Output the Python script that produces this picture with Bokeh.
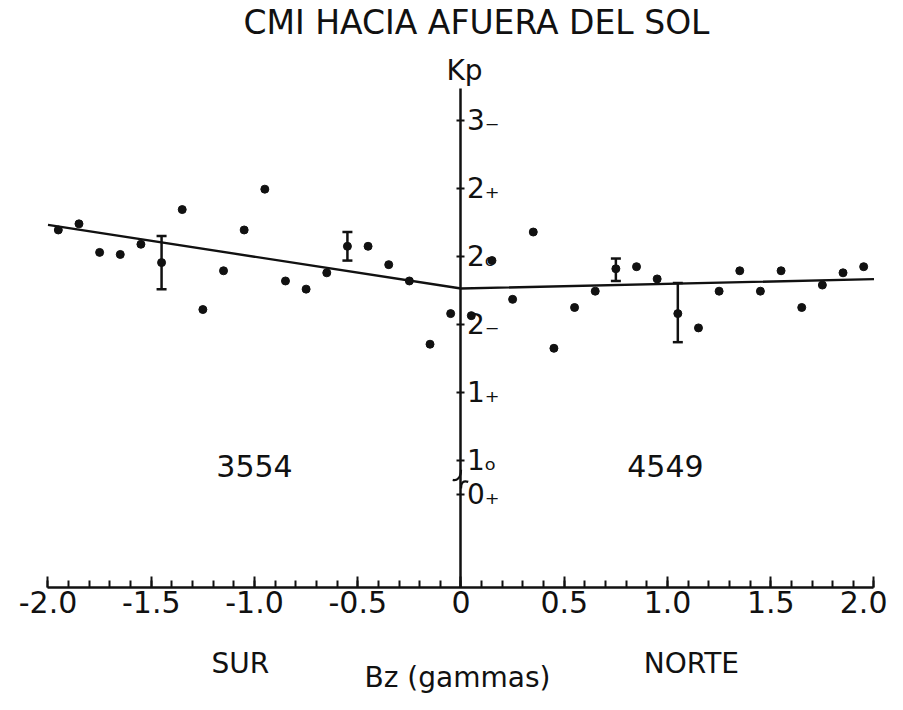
from bokeh.plotting import figure
from bokeh.models import (Range1d, LinearAxis, FixedTicker, SingleIntervalTicker,
                          Label, Whisker, TeeHead, ColumnDataSource)
from bokeh.embed import file_html
from bokeh.resources import INLINE

# ---------------- data ----------------
BZ_SUR = [-1.95, -1.85, -1.75, -1.65, -1.55, -1.45, -1.35, -1.25, -1.15, -1.05,
          -0.95, -0.85, -0.75, -0.65, -0.55, -0.45, -0.35, -0.25, -0.15, -0.05]
KP_SUR = [2.13, 2.16, 2.02, 2.01, 2.06, 1.97, 2.23, 1.74, 1.93, 2.13,
          2.33, 1.88, 1.84, 1.92, 2.05, 2.05, 1.96, 1.88, 1.57, 1.72]
BZ_NORTE = [0.05, 0.15, 0.25, 0.35, 0.45, 0.55, 0.65, 0.75, 0.85, 0.95,
            1.05, 1.15, 1.25, 1.35, 1.45, 1.55, 1.65, 1.75, 1.85, 1.95]
KP_NORTE = [1.71, 1.98, 1.79, 2.12, 1.55, 1.75, 1.83, 1.94, 1.95, 1.89,
            1.72, 1.65, 1.83, 1.93, 1.83, 1.93, 1.75, 1.86, 1.92, 1.95]

ERR_BZ = [-1.45, -0.55, 0.75, 1.05]
ERR_LO = [1.84, 1.98, 1.88, 1.58]
ERR_HI = [2.10, 2.12, 1.99, 1.87]

FIT_BZ = [-2.0, 0.0, 2.0]
FIT_KP = [2.155, 1.843, 1.889]

X_TICKS = [-2.0, -1.5, -1.0, -0.5, 0.0, 0.5, 1.0, 1.5, 2.0]
X_TICK_LABELS = ["-2.0", "-1.5", "-1.0", "-0.5", "0", "0.5", "1.0", "1.5", "2.0"]

KP_TICK_POS = [2.667, 2.333, 2.0, 1.667, 1.333, 1.0, 0.833]
KP_TICK_LABELS = ["3\u208b", "2\u208a", "2\u2092", "2\u208b", "1\u208a", "1\u2092", "0\u208a"]

N_SUR = "3554"
N_NORTE = "4549"

FONT = "DejaVu Sans"
INK = "#111111"

# axis extents (data units)
BZ_MIN, BZ_MAX = -2.0, 2.0
KP_MIN, KP_MAX = 0.3775, 2.8235

# ---------------- figure ----------------
p = figure(width=887, height=694, output_backend="svg", toolbar_location=None,
           title=None,
           x_range=Range1d(-2.230, 2.0654), y_range=Range1d(-0.1471, 3.2549),
           y_axis_location=None, min_border=0)
p.outline_line_color = None
p.grid.visible = False

xa = p.xaxis[0]
xa.fixed_location = KP_MIN
xa.bounds = (BZ_MIN, BZ_MAX)
xa.ticker = SingleIntervalTicker(interval=0.5, num_minor_ticks=5)
xa.major_label_overrides = dict(zip(X_TICKS, X_TICK_LABELS))
xa.axis_line_width = 2.5
xa.axis_line_color = INK
xa.major_tick_in = 11
xa.major_tick_out = 0
xa.minor_tick_in = 7
xa.minor_tick_out = 0
xa.major_tick_line_width = 2
xa.minor_tick_line_width = 2
xa.major_tick_line_color = INK
xa.minor_tick_line_color = INK
xa.major_label_text_font = FONT
xa.major_label_text_font_size = "30px"
xa.major_label_text_color = INK
xa.major_label_standoff = 4

ya = LinearAxis(fixed_location=0, bounds=(KP_MIN, KP_MAX),
                ticker=FixedTicker(ticks=KP_TICK_POS))
ya.major_label_overrides = dict(zip(KP_TICK_POS, KP_TICK_LABELS))
ya.axis_line_width = 2.5
ya.axis_line_color = INK
ya.major_tick_in = 4
ya.major_tick_out = 4
ya.major_tick_line_width = 2
ya.major_tick_line_color = INK
ya.minor_tick_line_color = None
ya.major_label_text_font = FONT
ya.major_label_text_font_size = "28px"
ya.major_label_text_color = INK
ya.major_label_standoff = 2
p.add_layout(ya, "right")

# axis-break curls near 1o / 0+
y1 = KP_TICK_POS[5]
y0 = KP_TICK_POS[6]
p.bezier(x0=[0.0, 0.0], y0=[y1 - 0.045, y0 + 0.03],
         x1=[-0.04, 0.035], y1=[y1 - 0.095, y0 + 0.062],
         cx0=[0.0, 0.0], cy0=[y1 - 0.085, y0 + 0.06],
         cx1=[-0.02, 0.012], cy1=[y1 - 0.1, y0 + 0.07],
         line_color=INK, line_width=2.2)

# fit line
p.line(FIT_BZ, FIT_KP, line_color=INK, line_width=2.4)

# error bars
src = ColumnDataSource(dict(base=ERR_BZ, lower=ERR_LO, upper=ERR_HI))
p.add_layout(Whisker(base="base", lower="lower", upper="upper", source=src,
                     dimension="height", line_color=INK, line_width=2.5,
                     upper_head=TeeHead(size=10, line_width=2.5, line_color=INK),
                     lower_head=TeeHead(size=10, line_width=2.5, line_color=INK)))

# points
p.scatter(BZ_SUR, KP_SUR, size=8, color=INK)
p.scatter(BZ_NORTE, KP_NORTE, size=8, color=INK)

# texts
def lab(x, y, t, size, align="center"):
    p.add_layout(Label(x=x, y=y, text=t, text_align=align, text_baseline="middle",
                       text_font=FONT, text_font_size=size, text_color=INK))

lab(0.075, 3.145, "CMI HACIA AFUERA DEL SOL", "33px")
lab(0.017, 2.912, "Kp", "28px")
lab(-1.0, 0.975, N_SUR, "30px")
lab(0.99, 0.975, N_NORTE, "30px")
lab(-1.068, 0.005, "SUR", "28px")
lab(1.116, 0.005, "NORTE", "28px")
lab(-0.017, -0.065, "Bz (gammas)", "28px")

open("out.html", "w").write(file_html(p, INLINE))
